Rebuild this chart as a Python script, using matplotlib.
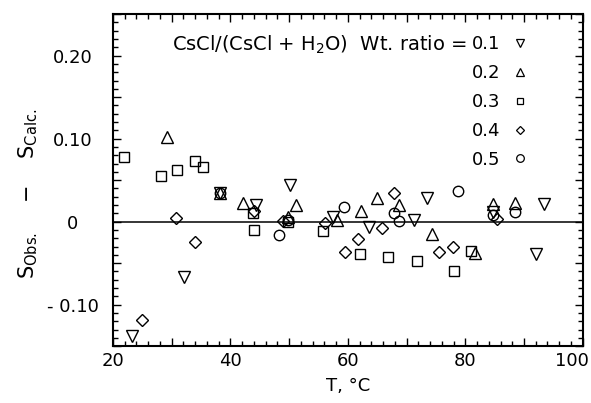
import matplotlib
matplotlib.use("Agg")
import matplotlib.pyplot as plt
import matplotlib.transforms as mtransforms
from matplotlib.lines import Line2D
from matplotlib.ticker import MultipleLocator, FuncFormatter

plt.rcParams["font.family"] = ["DejaVu Sans"]
plt.rcParams["mathtext.fontset"] = "dejavusans"

# wt. ratio 0.1 (down triangles)
t_01 = [23.2, 32.1, 38.3, 44.3, 50.2, 57.4, 63.6, 71.3, 73.4, 84.7, 92.0, 93.4]
d_01 = [-0.138, -0.067, 0.034, 0.020, 0.044, 0.005, -0.007, 0.002, 0.028, 0.012, -0.039, 0.021]
# wt. ratio 0.2 (up triangles)
t_02 = [29.2, 38.3, 42.2, 49.9, 51.2, 58.1, 62.3, 65.0, 68.8, 74.3, 81.7, 84.8, 88.5]
d_02 = [0.102, 0.034, 0.023, 0.006, 0.020, 0.002, 0.013, 0.028, 0.020, -0.015, -0.038, 0.021, 0.022]
# wt. ratio 0.3 (squares)
t_03 = [21.9, 28.2, 30.9, 34.0, 35.4, 43.8, 44.0, 49.9, 55.7, 62.1, 66.8, 71.8, 78.0, 80.9]
d_03 = [0.078, 0.055, 0.062, 0.073, 0.066, 0.011, -0.010, 0.000, -0.011, -0.039, -0.042, -0.047, -0.059, -0.035]
# wt. ratio 0.4 (diamonds)
t_04 = [25.0, 30.7, 34.0, 44.0, 48.9, 56.1, 59.5, 61.7, 65.8, 67.8, 75.6, 77.9, 85.4]
d_04 = [-0.118, 0.004, -0.025, 0.013, 0.001, -0.002, -0.037, -0.021, -0.008, 0.034, -0.037, -0.031, 0.003]
# wt. ratio 0.5 (circles)
t_05 = [38.3, 48.2, 49.9, 59.3, 67.9, 68.8, 78.8, 84.8, 88.4]
d_05 = [0.034, -0.016, 0.002, 0.018, 0.010, 0.001, 0.037, 0.008, 0.012]

ratios = ["0.1", "0.2", "0.3", "0.4", "0.5"]
markers = ["v", "^", "s", "D", "o"]
sizes = [8, 8, 7.5, 6.5, 7.5]
legend_sizes = [6, 6, 5, 4.5, 5.5]

ytick_labels = {-0.10: "- 0.10", 0.0: "0", 0.10: "0.10", 0.20: "0.20"}
xtick_labels = {20: "20", 40: "40", 60: "60", 80: "80", 100: "100"}

fig = plt.figure(figsize=(5.91, 4.03), dpi=100)
ax = fig.add_axes([0.191, 0.141, 0.795, 0.824])

series = [(t_01, d_01), (t_02, d_02), (t_03, d_03), (t_04, d_04), (t_05, d_05)]
for (t, d), m, ms in zip(series, markers, sizes):
    ax.plot(t, d, linestyle="none", marker=m, markersize=ms, markerfacecolor="none",
            markeredgecolor="black", markeredgewidth=1.0)

ax.axhline(0, color="black", linewidth=1.1)

ax.set_xlim(20, 100)
ax.set_ylim(-0.15, 0.25)

ax.xaxis.set_major_locator(MultipleLocator(10))
ax.xaxis.set_minor_locator(MultipleLocator(2))
ax.yaxis.set_major_locator(MultipleLocator(0.05))
ax.yaxis.set_minor_locator(MultipleLocator(0.01))
ax.xaxis.set_major_formatter(FuncFormatter(lambda v, p: xtick_labels.get(int(round(v)), "")))
ax.yaxis.set_major_formatter(FuncFormatter(lambda v, p: ytick_labels.get(round(v, 2), "")))

ax.tick_params(which="both", direction="in", top=True, right=True, width=1.0, labelsize=13)
ax.tick_params(which="major", length=6)
ax.tick_params(which="minor", length=3.5)
ax.tick_params(axis="x", pad=4)
ax.tick_params(axis="y", pad=29)
for lab in ax.get_yticklabels():
    lab.set_horizontalalignment("center")
for s in ax.spines.values():
    s.set_linewidth(1.5)

# the "100" label sits a little inside the right edge in the original
shift = mtransforms.ScaledTranslation(-8 / 72, 0, fig.dpi_scale_trans)
fig.canvas.draw()
for lab in ax.get_xticklabels():
    if lab.get_text() == "100":
        lab.set_transform(lab.get_transform() + shift)

ax.set_xlabel("T, °C", fontsize=13, labelpad=5)
ax.set_ylabel(r"S$_{\mathregular{Obs.}}$    $-$    S$_{\mathregular{Calc.}}$", fontsize=15)
ax.yaxis.set_label_coords(-0.155, 0.46)

handles = [Line2D([], [], linestyle="none", marker=m, markersize=ms, markerfacecolor="none",
                  markeredgecolor="black", markeredgewidth=0.9)
           for m, ms in zip(markers, legend_sizes)]
leg = ax.legend(handles, ratios, loc="upper right", bbox_to_anchor=(0.925, 0.99), frameon=False,
                markerfirst=False, fontsize=13, labelspacing=0.6, handlelength=1.0,
                handletextpad=0.6, borderaxespad=0.6)
ax.annotate(r"CsCl/(CsCl + H$_2$O)  Wt. ratio =", xy=(0, 0.5), xycoords=leg.get_texts()[0],
            xytext=(-4, 0), textcoords="offset points", ha="right", va="center",
            fontsize=14, zorder=10)

fig.savefig("out.png", dpi=100)
